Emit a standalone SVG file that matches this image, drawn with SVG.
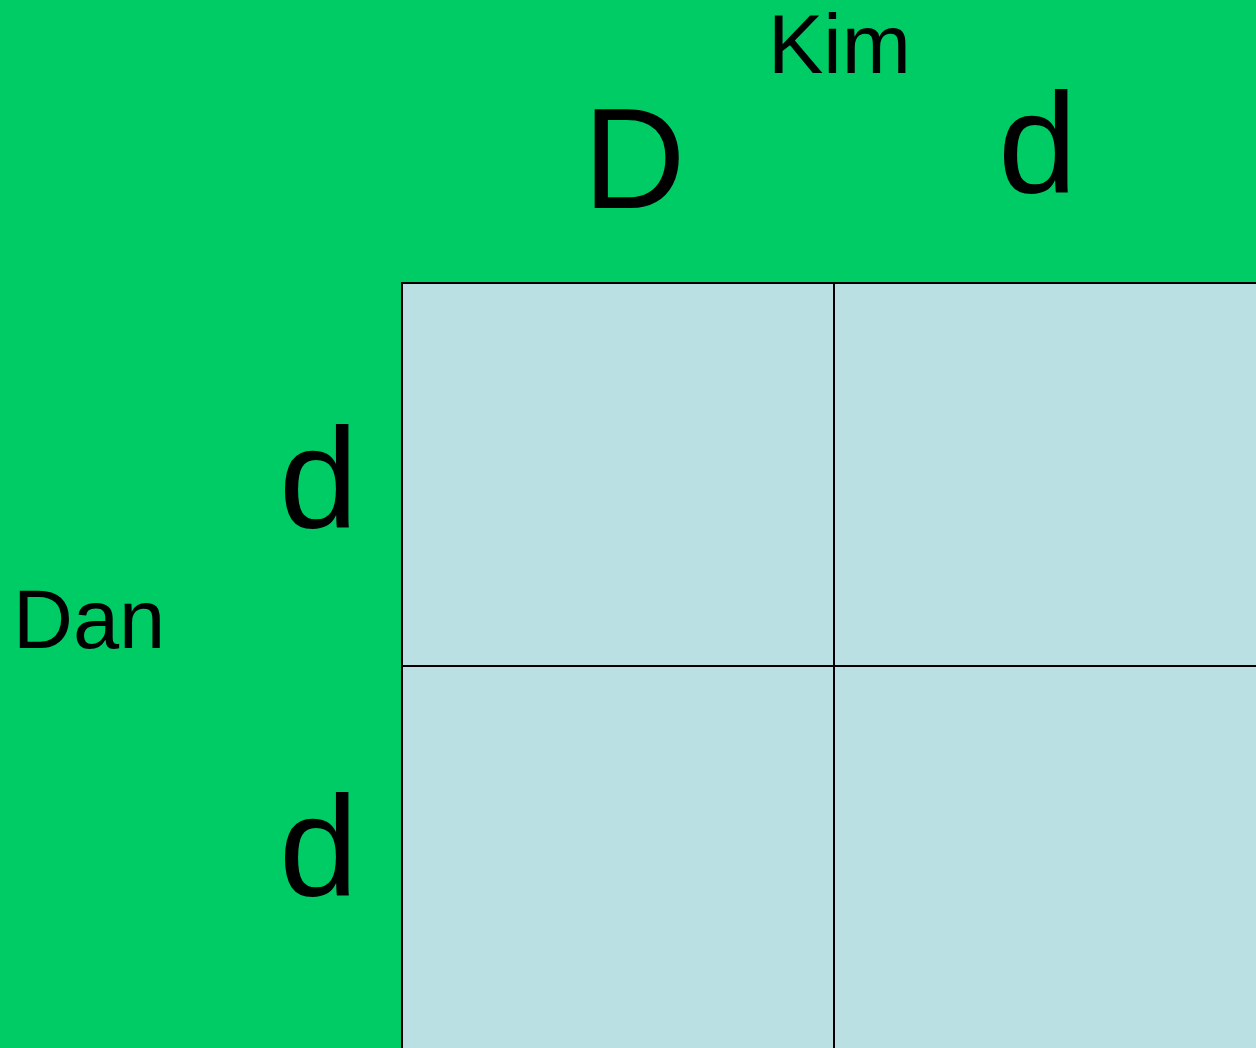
<svg xmlns="http://www.w3.org/2000/svg" width="1256" height="1048" viewBox="0 0 1256 1048">
<style>
.t{font-family:"Liberation Sans",Arial,sans-serif;fill:#000}
.big{font-size:142px}
.name{font-size:83px}
.cell{fill:#BBE0E3;stroke:#000;stroke-width:2}
</style>
<rect x="0" y="0" width="1256" height="1048" fill="#00CC66"/>
<g id="grid">
<rect id="cell-1" class="cell" x="402" y="283" width="432" height="383"/>
<rect id="cell-2" class="cell" x="834" y="283" width="432" height="383"/>
<rect id="cell-3" class="cell" x="402" y="666" width="432" height="392"/>
<rect id="cell-4" class="cell" x="834" y="666" width="432" height="392"/>
</g>
<g id="labels">
<text id="kim" class="t name" x="768" y="73">Kim</text>
<text id="dan" class="t name" x="13" y="648">Dan</text>
<text id="col-D" class="t big" x="583" y="208">D</text>
<text id="col-d" class="t big" x="998" y="193">d</text>
<text id="row-d1" class="t big" x="279" y="528">d</text>
<text id="row-d2" class="t big" x="279" y="896">d</text>
</g>
</svg>
